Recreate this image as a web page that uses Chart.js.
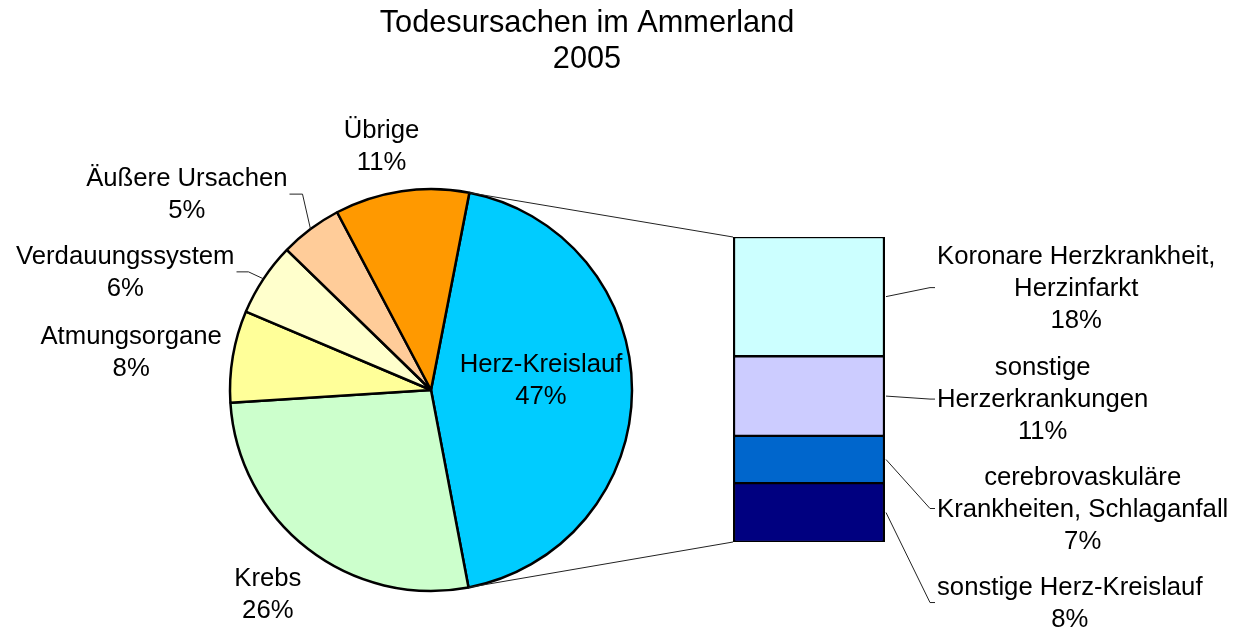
<!DOCTYPE html>
<html>
<head>
<meta charset="utf-8">
<script src="https://cdn.jsdelivr.net/npm/chart.js@4.4.0/dist/chart.umd.min.js"></script>
<style>
    html, body { margin: 0; padding: 0; background: #fff; }
    #wrap { position: relative; width: 1237px; height: 629px; }
    #wrap canvas { position: absolute; left: 0; top: 0; }
</style>
</head>
<body>
<div id="wrap">
    <canvas id="pieChart" width="1237" height="629"></canvas>
    <canvas id="barChart" width="1237" height="629"></canvas>
</div>
<script>
const titleLines = ['Todesursachen im Ammerland', '2005']

// pie: first slice is the one split out into the bar
const pieCategories = ['Herz-Kreislauf', 'Krebs', 'Atmungsorgane', 'Verdauungssystem', 'Äußere Ursachen', 'Übrige']
const piePercents = ['47%', '26%', '8%', '6%', '5%', '11%']
const otherValues = [27.0, 7.4, 5.9, 5.0, 10.8]
const pieColors = ['#00ccff', '#ccffcc', '#ffff99', '#ffffcc', '#ffcc99', '#ff9900']

// bar (top to bottom)
const barCategories = [
    ['Koronare Herzkrankheit,', 'Herzinfarkt'],
    ['sonstige', 'Herzerkrankungen'],
    ['cerebrovaskuläre', 'Krankheiten, Schlaganfall'],
    ['sonstige Herz-Kreislauf']
]
const barPercents = ['18%', '11%', '7%', '8%']
const barValues = [17.2, 11.5, 6.8, 8.5]
const barColors = ['#ccffff', '#ccccff', '#0066cc', '#000080']

const barTotal = barValues.reduce((a, b) => a + b, 0)
const pieValues = [barTotal, ...otherValues]

const FONT = '"Liberation Sans", Arial, sans-serif'
const LINE_H = 32

// label placement: offset from the slice's rim midpoint
const pieLabelLayout = [
    { dx: -91, dy: -11, align: 'center' },
    { dx: -40, dy: 45, align: 'center' },
    { dx: -11, dy: -4, align: 'right' },
    { dx: -29, dy: -7, align: 'right', leader: 14 },
    { dx: -23, dy: -35, align: 'right', leader: 15 },
    { dx: -20, dy: -45, align: 'center' }
]
// bar labels: offset of the label's centre from the segment middle
const barLabelShift = [-9, 3, 49, 90]
const barLabelLeft = 937

function drawBlock(ctx, lines, x, y, align) {
    ctx.font = '25.7px ' + FONT
    const widths = lines.map(l => ctx.measureText(l).width)
    const w = Math.max(...widths)
    let cx = x
    if (align === 'right') cx = x - w / 2
    if (align === 'left') cx = x + w / 2
    const y0 = y - (lines.length - 1) * LINE_H / 2
    ctx.textAlign = 'center'
    ctx.textBaseline = 'middle'
    ctx.fillStyle = '#000'
    lines.forEach((l, i) => ctx.fillText(l, cx, y0 + i * LINE_H + 1))
}

const pieText = {
    id: 'pieText',
    afterDraw(chart) {
        const ctx = chart.ctx
        ctx.save()
        ctx.font = '30.7px ' + FONT
        ctx.fillStyle = '#000'
        ctx.textAlign = 'center'
        ctx.textBaseline = 'middle'
        ctx.fillText(titleLines[0], 587, 24)
        ctx.fillText(titleLines[1], 587, 60)

        chart.getDatasetMeta(0).data.forEach((arc, i) => {
            const mid = (arc.startAngle + arc.endAngle) / 2
            const rx = arc.x + Math.cos(mid) * arc.outerRadius
            const ry = arc.y + Math.sin(mid) * arc.outerRadius
            const lay = pieLabelLayout[i]
            const lx = rx + lay.dx
            const ly = ry + lay.dy
            if (lay.leader) {
                ctx.strokeStyle = '#222'
                ctx.lineWidth = 1
                ctx.beginPath()
                ctx.moveTo(rx, ry)
                ctx.lineTo(lx + lay.leader, ly)
                ctx.lineTo(lx + 2, ly)
                ctx.stroke()
            }
            drawBlock(ctx, [pieCategories[i], piePercents[i]], lx, ly, lay.align)
        })
        ctx.restore()
    }
}

const pieChart = new Chart('pieChart', {
    type: 'pie',
    data: {
        labels: pieCategories,
        datasets: [{
            data: pieValues,
            backgroundColor: pieColors,
            borderColor: '#000',
            borderWidth: 2.5,
            radius: 201
        }]
    },
    options: {
        responsive: false,
        animation: false,
        rotation: 11,
        layout: { padding: { left: 230, right: 605, top: 189, bottom: 38 } },
        plugins: { legend: { display: false }, tooltip: { enabled: false } }
    },
    plugins: [pieText]
})

const barText = {
    id: 'barText',
    afterDraw(chart) {
        const ctx = chart.ctx
        ctx.save()
        const bars = chart.data.datasets.map((d, i) => chart.getDatasetMeta(i).data[0])
        const left = bars[0].x - bars[0].width / 2
        const right = bars[0].x + bars[0].width / 2
        const top = Math.min(...bars.map(b => Math.min(b.y, b.base)))
        const bottom = Math.max(...bars.map(b => Math.max(b.y, b.base)))

        // connector lines from the split slice
        const arc = pieChart.getDatasetMeta(0).data[0]
        ctx.strokeStyle = '#222'
        ctx.lineWidth = 1
        ctx.beginPath()
        ctx.moveTo(arc.x + Math.cos(arc.startAngle) * arc.outerRadius, arc.y + Math.sin(arc.startAngle) * arc.outerRadius)
        ctx.lineTo(left, top)
        ctx.moveTo(arc.x + Math.cos(arc.endAngle) * arc.outerRadius, arc.y + Math.sin(arc.endAngle) * arc.outerRadius)
        ctx.lineTo(left, bottom)
        ctx.stroke()

        bars.forEach((b, i) => {
            const mid = (b.y + b.base) / 2
            const ly = mid + barLabelShift[i]
            ctx.strokeStyle = '#222'
            ctx.lineWidth = 1
            ctx.beginPath()
            ctx.moveTo(right + 1, mid)
            ctx.lineTo(barLabelLeft - 7, ly)
            ctx.lineTo(barLabelLeft - 2, ly)
            ctx.stroke()
            drawBlock(ctx, [...barCategories[i], barPercents[i]], barLabelLeft, ly, 'left')
        })
        ctx.restore()
    }
}

const barChart = new Chart('barChart', {
    type: 'bar',
    data: {
        labels: [''],
        datasets: barValues.map((v, i) => ({
            label: barCategories[i].join(' '),
            data: [v],
            backgroundColor: barColors[i],
            borderColor: '#000',
            borderWidth: { left: 2.5, right: 2.5, top: 1.5, bottom: 1.5 },
            borderSkipped: false,
            categoryPercentage: 1,
            barPercentage: 1
        }))
    },
    options: {
        responsive: false,
        animation: false,
        layout: { padding: { left: 733, right: 352, top: 237, bottom: 87 } },
        scales: {
            x: { display: false, stacked: true },
            y: { display: false, stacked: true, reverse: true, min: 0, max: barTotal }
        },
        plugins: { legend: { display: false }, tooltip: { enabled: false } }
    },
    plugins: [barText]
})
</script>
</body>
</html>
